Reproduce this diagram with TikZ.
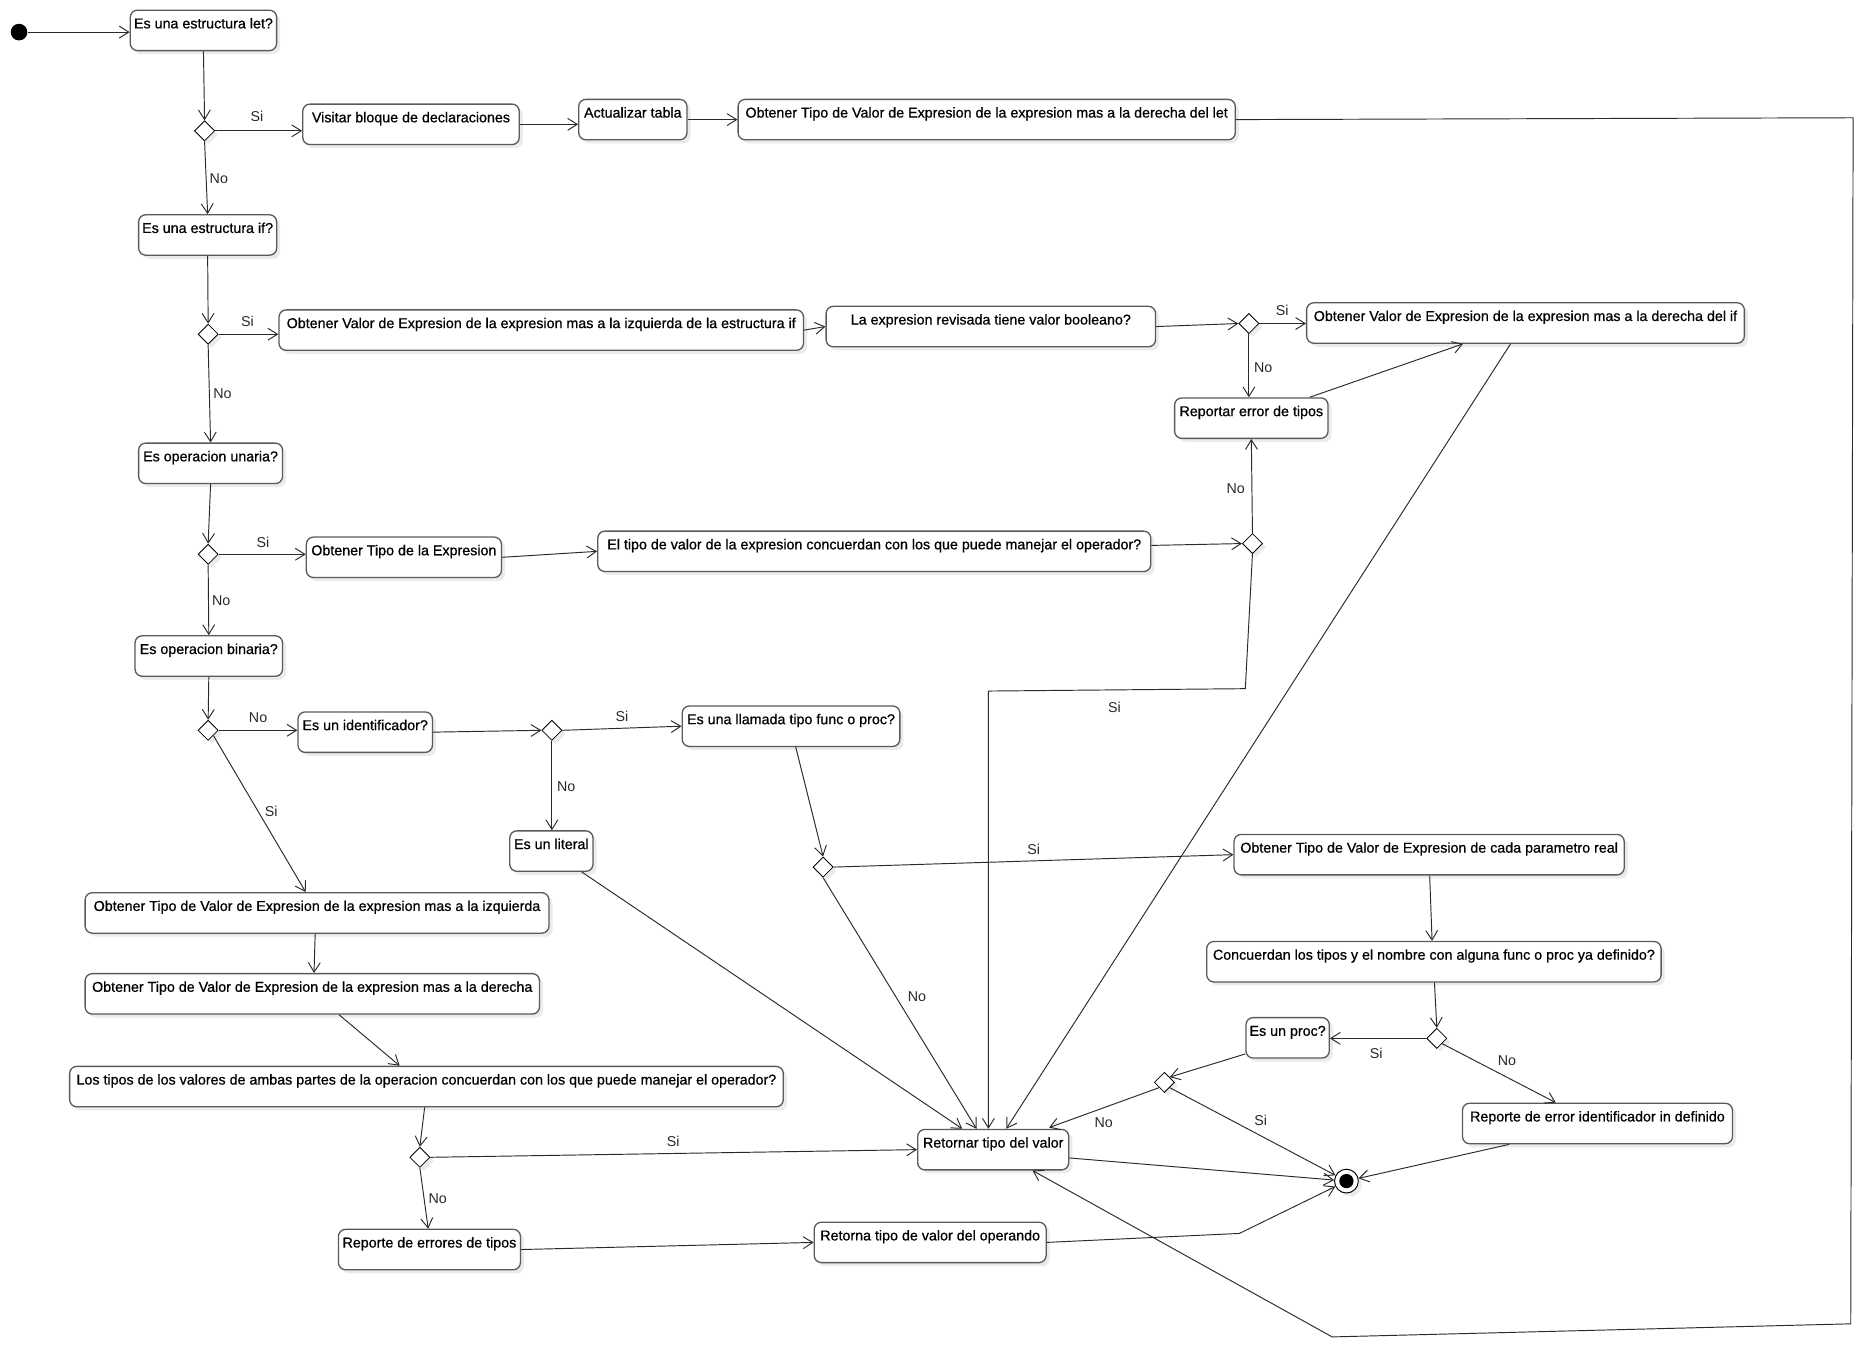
\documentclass[tikz,border=0pt]{standalone}
\usepackage{fontspec}
\setmainfont{Liberation Sans}
\newfontfamily\boxfont{Liberation Sans}[FakeBold=0.7]
\usetikzlibrary{shapes.geometric,arrows.meta,shadows,calc}
\definecolor{boxgray}{HTML}{5A5A5A}
\definecolor{linegray}{HTML}{2A2A2A}
\definecolor{shadowgray}{HTML}{EBEBEB}
\definecolor{labelgray}{HTML}{2A2A2A}
\tikzset{
  act/.style={draw=boxgray, line width=1.1pt, rounded corners=6pt, fill=white,
    anchor=north west, minimum height=34pt, text height=13.3pt, text depth=16.7pt,
    inner xsep=3pt, inner ysep=2pt, font=\boxfont\fontsize{12}{14}\selectfont,
    drop shadow={shadow xshift=3pt,shadow yshift=-3pt,fill=shadowgray,opacity=1}},
  dec/.style={diamond, draw=black, line width=0.7pt, fill=white, minimum width=17pt,
    minimum height=17pt, inner sep=0pt,
    drop shadow={shadow xshift=3pt,shadow yshift=-3pt,fill=shadowgray,opacity=1}},
  flow/.style={draw=linegray, line width=0.8pt, -{Straight Barb[length=8pt,width=10pt]}},
  plain/.style={draw=linegray, line width=0.8pt},
  lbl/.style={font=\fontsize{12}{14}\selectfont, text=labelgray, inner sep=0pt},
}
\begin{document}
\begin{tikzpicture}[x=1pt,y=-1pt]
\useasboundingbox (0,0) rectangle (1568,1134);
\fill[white] (0,0) rectangle (1568,1134);

% start / end
\node[circle, fill=black, minimum size=14pt, inner sep=0pt] (start) at (16,27) {};
\node[circle, draw=black, line width=0.8pt, fill=white, minimum size=20pt, inner sep=0pt,
  drop shadow={shadow xshift=3pt,shadow yshift=-3pt,fill=shadowgray,opacity=1}] (fin) at (1132,993) {};
\node[circle, fill=black, minimum size=12pt, inner sep=0pt] (finin) at (fin.center) {};

% activity boxes
\node[act, minimum width=123pt] (let) at (109,8) {Es una estructura let?};
\node[act, minimum width=182pt] (visitar) at (254,87) {Visitar bloque de declaraciones};
\node[act, minimum width=91pt] (actualizar) at (486,83) {Actualizar tabla};
\node[act, minimum width=418pt] (letder) at (620,83) {Obtener Tipo de Valor de Expresion de la expresion mas a la derecha del let};
\node[act, minimum width=116pt] (if) at (116,180) {Es una estructura if?};
\node[act, minimum width=441pt] (ifizq) at (234,260) {Obtener Valor de Expresion de la expresion mas a la izquierda de la estructura if};
\node[act, minimum width=277pt] (bool) at (694,257) {La expresion revisada tiene valor booleano?};
\node[act, minimum width=368pt] (ifder) at (1098,254) {Obtener Valor de Expresion de la expresion mas a la derecha del if};
\node[act, minimum width=129pt] (reportar) at (987,334) {Reportar error de tipos};
\node[act, minimum width=121pt] (unaria) at (116,372) {Es operacion unaria?};
\node[act, minimum width=164pt] (tipoexp) at (257,451) {Obtener Tipo de la Expresion};
\node[act, minimum width=465pt] (conc1) at (502,446) {El tipo de valor de la expresion concuerdan con los que puede manejar el operador?};
\node[act, minimum width=124pt] (binaria) at (113,534) {Es operacion binaria?};
\node[act, minimum width=113pt] (ident) at (250,598) {Es un identificador?};
\node[act, minimum width=183pt] (llamada) at (573,593) {Es una llamada tipo func o proc?};
\node[act, minimum width=70pt] (literal) at (428,698) {Es un literal};
\node[act, minimum width=328pt] (paramreal) at (1037,701) {Obtener Tipo de Valor de Expresion de cada parametro real};
\node[act, minimum width=390pt] (izq) at (71,750) {Obtener Tipo de Valor de Expresion de la expresion mas a la izquierda};
\node[act, minimum width=382pt] (der) at (71,818) {Obtener Tipo de Valor de Expresion de la expresion mas a la derecha};
\node[act, minimum width=382pt] (concuerdan) at (1014,791) {Concuerdan los tipos y el nombre con alguna func o proc ya definido?};
\node[act, minimum width=70pt] (esproc) at (1047,855) {Es un proc?};
\node[act, minimum width=600pt] (ambas) at (58,896) {Los tipos de los valores de ambas partes de la operacion concuerdan con los que puede manejar el operador?};
\node[act, minimum width=127pt] (retornar) at (771,949) {Retornar tipo del valor};
\node[act, minimum width=227pt] (errident) at (1229,927) {Reporte de error identificador in definido};
\node[act, minimum width=153pt] (errtipos) at (284,1033) {Reporte de errores de tipos};
\node[act, minimum width=195pt] (retorna) at (684,1027) {Retorna tipo de valor del operando};

% decisions
\node[dec] (d1) at (172,110) {};
\node[dec] (d2) at (175,281) {};
\node[dec] (d3) at (1050,272) {};
\node[dec] (d4) at (175,466) {};
\node[dec] (d5) at (1053,457) {};
\node[dec] (d6) at (175,614) {};
\node[dec] (d7) at (464,614) {};
\node[dec] (d8) at (692,729) {};
\node[dec] (d9) at (1208,873) {};
\node[dec] (d10) at (979,910) {};
\node[dec] (d11) at (353,973) {};

% bend points
\coordinate (k1) at (1558,99);
\coordinate (k2) at (1556,1113);
\coordinate (k3) at (1120,1124);
\coordinate (k4) at (1047,579);
\coordinate (k5) at (831,581);
\coordinate (k6) at (1042,1037);

% connectors
\draw[flow] (start) -- (start -| let.west);
\draw[flow] (let.south) -- (d1.north);
\draw[flow] (d1.east) -- (d1.east -| visitar.west);
\draw[flow] (d1.south) -- (if.north);
\draw[flow] (visitar.east) -- (visitar.east -| actualizar.west);
\draw[flow] (actualizar.east) -- (actualizar.east -| letder.west);
\draw[flow] (letder.east) -- (k1) -- (k2) -- (k3) -- ($(retornar.south)+(33,0)$);

\draw[flow] (if.south) -- (d2.north);
\draw[flow] (d2.east) -- (d2.east -| ifizq.west);
\draw[flow] (d2.south) -- (unaria.north);
\draw[flow] (ifizq.east) -- (bool.west);
\draw[flow] (bool.east) -- (d3.west);
\draw[flow] (d3.east) -- (d3.east -| ifder.west);
\draw[flow] (d3.south) -- (d3.south |- reportar.north);
\draw[flow] ($(reportar.north east)+(-16,0)$) -- ($(ifder.south west)+(132,0)$);
\draw[flow] ($(ifder.south west)+(172,0)$) -- ($(retornar.north west)+(75,0)$);

\draw[flow] (unaria.south) -- (d4.north);
\draw[flow] (d4.east) -- (d4.east -| tipoexp.west);
\draw[flow] (d4.south) -- (binaria.north);
\draw[flow] (tipoexp.east) -- (conc1.west);
\draw[flow] ($(conc1.east)+(0,-5)$) -- (d5.west);
\draw[flow] (d5.north) -- (reportar.south);
\draw[flow] (d5.south) -- (k4) -- (k5) -- (k5 |- retornar.north);

\draw[flow] (binaria.south) -- (d6.north);
\draw[flow] (d6.east) -- (d6.east -| ident.west);
\draw[flow] (d6.south east) -- ($(izq.north west)+(186,0)$);
\draw[flow] (ident.east) -- (d7.west);
\draw[flow] (d7.east) -- (llamada.west);
\draw[flow] (d7.south) -- (d7.south |- literal.north);
\draw[flow] ($(literal.south east)+(-10,0)$) -- ($(retornar.north west)+(38,0)$);
\draw[flow] ($(llamada.south west)+(96,0)$) -- (d8.north);
\draw[flow] (d8.east) -- (paramreal.west);
\draw[flow] (d8.south) -- ($(retornar.north west)+(50,0)$);

\draw[flow] ($(paramreal.south west)+(165,0)$) -- ($(concuerdan.north west)+(190,0)$);
\draw[flow] ($(concuerdan.south west)+(192,0)$) -- (d9.north);
\draw[flow] (d9.west) -- (d9.west -| esproc.east);
\draw[flow] (d9.south east) -- ($(errident.north west)+(79,0)$);
\draw[flow] ($(esproc.south west)+(0,-4)$) -- (d10.north east);
\draw[flow] (d10.south west) -- ($(retornar.north west)+(111,-1)$);
\draw[flow] (d10.south east) -- (fin);
\draw[flow] ($(errident.south west)+(40,0)$) -- (fin);
\draw[flow] ($(retornar.east)+(0,7)$) -- (fin);
\draw[flow] (retorna.east) -- (k6) -- (fin);

\draw[flow] ($(izq.south west)+(194,0)$) -- ($(der.north west)+(193,0)$);
\draw[flow] ($(der.south west)+(214,0)$) -- ($(ambas.north west)+(278,0)$);
\draw[flow] ($(ambas.south west)+(299,0)$) -- (d11.north);
\draw[flow] (d11.east) -- (retornar.west);
\draw[flow] (d11.south) -- ($(errtipos.north west)+(76,0)$);
\draw[flow] (errtipos.east) -- (retorna.west);

% labels
\node[lbl] (s1) at (216,98) {Si};
\node[lbl] (n1) at (184,150) {No};
\node[lbl] (s2) at (208,270) {Si};
\node[lbl] (n2) at (187,331) {No};
\node[lbl] (s3) at (1078,261) {Si};
\node[lbl] (n3) at (1062,309) {No};
\node[lbl] (s4) at (221,456) {Si};
\node[lbl] (n4) at (186,505) {No};
\node[lbl] (n5) at (1039,411) {No};
\node[lbl] (s5) at (937,595) {Si};
\node[lbl] (n6) at (217,603) {No};
\node[lbl] (s6) at (228,682) {Si};
\node[lbl] (s7) at (523,602) {Si};
\node[lbl] (n7) at (476,661) {No};
\node[lbl] (s8) at (869,714) {Si};
\node[lbl] (n8) at (771,838) {No};
\node[lbl] (s9) at (1157,886) {Si};
\node[lbl] (n9) at (1267,892) {No};
\node[lbl] (n10) at (928,944) {No};
\node[lbl] (s10) at (1060,942) {Si};
\node[lbl] (s11) at (566,960) {Si};
\node[lbl] (n11) at (368,1008) {No};
\end{tikzpicture}
\end{document}
